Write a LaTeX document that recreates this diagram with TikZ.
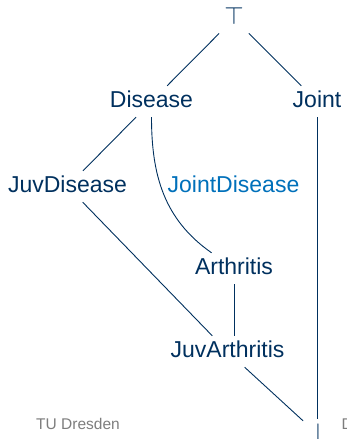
\documentclass[tikz,border=0pt]{standalone}
\usepackage{fontspec}
\setmainfont{Liberation Sans}
\usepackage{tikz}
\usetikzlibrary{shapes, arrows}
\definecolor{tudblue}{RGB}{0,48,94}
\definecolor{tudlight}{RGB}{0,112,186}
\definecolor{footgray}{RGB}{125,125,125}
\tikzstyle{concept} = [rectangle, text = tudblue, font = \fontsize{23}{27}\selectfont, inner sep = 5pt, text height = 16pt, text depth = 5pt, anchor = base]
\tikzstyle{footer} = [text = footgray, font = \fontsize{15.5}{18}\selectfont, inner sep = 0pt, anchor = base]
\tikzstyle{link} = [draw = tudblue, line width = 0.9pt]

\begin{document}
\begin{tikzpicture}[x = 1pt, y = 1pt]
            \useasboundingbox (0, 0) rectangle (347, -439);
            \clip (0, 0) rectangle (347, -439);
            \node[concept] (top) at (234, -24) {$\top$};
            \node[concept] (dis) at (151.5, -107) {Disease};
            \node[concept] (joint) at (317, -107) {Joint};
            \node[concept] (juvdis) at (67.5, -192) {JuvDisease};
            \node[concept, text = tudlight] (jointdis) at (233.5, -192) {JointDisease};
            \node[concept] (arth) at (234, -274) {Arthritis};
            \node[concept] (juvarth) at (227.5, -357) {JuvArthritis};
            \node[concept] (bot) at (318, -440) {$\bot$};
            \node[footer] (tud) at (78, -429) {TU Dresden};
            \node[footer, anchor = base west] (dfoot) at (341.5, -429) {D};

            \path[link] (top) -- (dis);
            \path[link] (top) -- (joint);
            \path[link] (dis) -- (juvdis);
            \path[link] (dis) to[out = -90, in = 145] (arth);
            \path[link] (joint.south) -- (joint.south |- bot.north);
            \path[link] (juvdis) -- (juvarth);
            \path[link] (arth.south) -- (arth.south |- juvarth.north);
            \path[link] (juvarth) -- (bot);
        \end{tikzpicture}
\end{document}
